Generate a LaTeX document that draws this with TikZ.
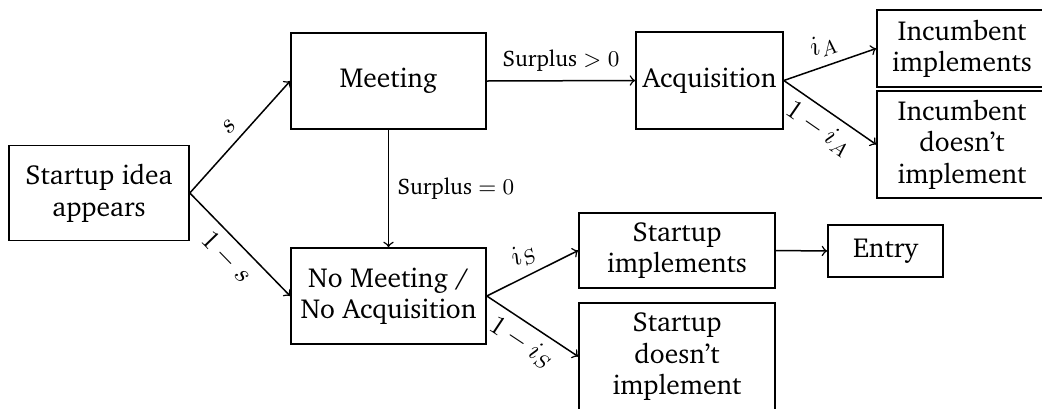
\documentclass[tikz,border=0pt]{standalone}
\usepackage[T1]{fontenc}
\usepackage{charter}
\begin{document}
\begin{tikzpicture}[x=0.4pt,y=-0.4pt,
  box/.style={draw,line width=0.65pt,inner sep=0pt,align=center,font=\fontsize{11}{12.6}\selectfont},
  arr/.style={->,line width=0.6pt},
  lab/.style={font=\fontsize{11}{13}\selectfont},
  slab/.style={font=\fontsize{9}{11}\selectfont}]
\useasboundingbox (0,0) rectangle (1042,408);
\node[box,minimum width=72pt,minimum height=38pt] (start) at (99,193) {Startup idea\\appears};
\node[box,minimum width=78pt,minimum height=38.4pt] (meet) at (388.5,81) {Meeting};
\node[box,minimum width=78pt,minimum height=38.4pt] (nomeet) at (388.5,296) {No Meeting /\\No Acquisition};
\node[box,minimum width=58.8pt,minimum height=38.8pt] (acq) at (709.5,80.5) {Acquisition};
\node[box,minimum width=68pt,minimum height=30.8pt] (inc1) at (962,48.5) {Incumbent\\implements};
\node[box,minimum width=68pt,minimum height=42.8pt] (inc2) at (962,144.5) {Incumbent\\doesn't\\implement};
\node[box,minimum width=78.4pt,minimum height=30pt] (s1) at (677,250.5) {Startup\\implements};
\node[box,minimum width=78.4pt,minimum height=42.8pt] (s2) at (677,356.5) {Startup\\doesn't\\implement};
\node[box,minimum width=46pt,minimum height=20.8pt] (entry) at (885.5,251) {Entry};
\draw[arr] (start.east) -- node[lab,sloped,above] {$s$} (meet.west);
\draw[arr] (start.east) -- node[lab,sloped,below] {$1-s$} (nomeet.west);
\draw[arr] (meet.east) -- node[slab,above] {Surplus $>0$} (acq.west);
\draw[arr] (meet.south) -- node[slab,right] {Surplus $=0$} (nomeet.north);
\draw[arr] (acq.east) -- node[lab,sloped,above] {$i_A$} (inc1.west);
\draw[arr] (acq.east) -- node[lab,sloped,below] {$1-i_A$} (inc2.west);
\draw[arr] (nomeet.east) -- node[lab,sloped,above] {$i_S$} (s1.west);
\draw[arr] (nomeet.east) -- node[lab,sloped,below] {$1-i_S$} (s2.west);
\draw[arr] (s1.east) -- (entry.west);
\end{tikzpicture}
\end{document}
